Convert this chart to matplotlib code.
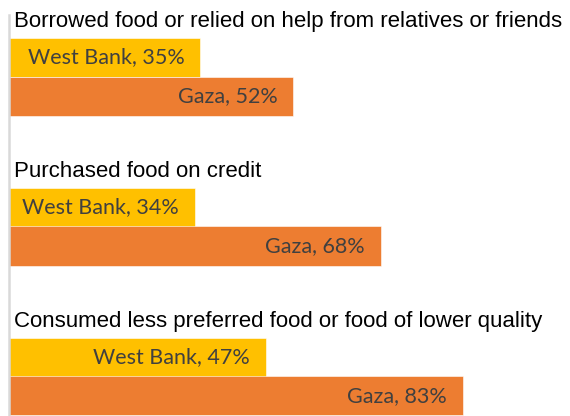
import matplotlib
matplotlib.use("Agg")
import matplotlib.pyplot as plt

categories = [
    "Borrowed food or relied on help from relatives or friends",
    "Purchased food on credit",
    "Consumed less preferred food or food of lower quality",
]
regions = ["West Bank", "Gaza"]
west_bank = [35, 34, 47]
gaza = [52, 68, 83]

colors = {"West Bank": "#FFC000", "Gaza": "#ED7D31"}

W, H = 570, 416
fig = plt.figure(figsize=(W / 100, H / 100), dpi=100)
ax = fig.add_axes([9 / W, 0, 547 / W, (H - 15) / H])
ax.set_xlim(0, 100)
ax.set_ylim(H / 150, 15 / 150)

bh = 0.26
for i, cat in enumerate(categories):
    ax.text(0.9, i + 0.14, cat, ha="left", va="center",
            fontsize=16, family="Liberation Sans", color="#000000")
    for j, (name, vals) in enumerate(zip(regions, [west_bank, gaza])):
        y = i + 0.38 + j * bh
        ax.barh(y, vals[i], height=bh, color=colors[name],
                edgecolor="white", linewidth=0.4)
        ax.annotate(f"{name}, {vals[i]}%", xy=(vals[i], y),
                    xytext=(-11.5, 0), textcoords="offset points",
                    ha="right", va="center", fontsize=15.5,
                    family="Lato", color="#404040")

for s in ["top", "right", "bottom"]:
    ax.spines[s].set_visible(False)
ax.spines["left"].set_color("#D9D9D9")
ax.spines["left"].set_linewidth(1.8)
ax.set_xticks([])
ax.set_yticks([])

fig.savefig("out.png", dpi=100)
